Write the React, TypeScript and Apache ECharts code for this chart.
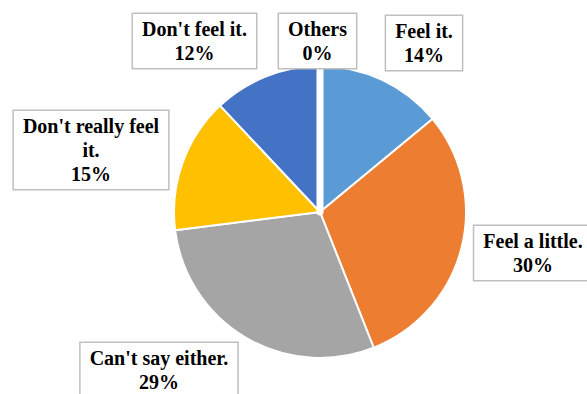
import React, { useEffect, useRef } from "react";
import * as echarts from "echarts";

const categories = [
  "Feel it.",
  "Feel a little.",
  "Can't say either.",
  "Don't really feel it.",
  "Don't feel it.",
  "Others",
];
const values = [14, 30, 29, 15, 12, 0];
const colors = ["#5B9BD5", "#ED7D31", "#A5A5A5", "#FFC000", "#4472C4", "#70AD47"];
// label box positions (center x, top y) in pixels
const labelX = [424, 533, 159, 91, 194.5, 317.5];
const labelY = [16, 226, 343, 111, 14, 14];

export default function App() {
  const ref = useRef<HTMLDivElement>(null);
  useEffect(() => {
    if (!ref.current) return;
    const chart = echarts.init(ref.current, null, { renderer: "svg" });
    chart.setOption({
      animation: false,
      backgroundColor: "#ffffff",
      series: [
        {
          type: "pie",
          center: [320, 212],
          radius: 146,
          startAngle: 90,
          clockwise: true,
          avoidLabelOverlap: false,
          percentPrecision: 0,
          labelLine: { show: false },
          itemStyle: { borderColor: "#ffffff", borderWidth: 2 },
          label: {
            show: true,
            position: "outside",
            formatter: (p: any) =>
              (p.name === "Don't really feel it." ? "Don't really feel\nit." : p.name) +
              "\n" +
              p.percent +
              "%",
            fontFamily: "'Liberation Serif', 'Times New Roman', serif",
            fontWeight: "bold",
            fontSize: 20,
            lineHeight: 24,
            color: "#000000",
            backgroundColor: "#ffffff",
            borderColor: "#bfbfbf",
            borderWidth: 1.5,
            padding: [3, 9],
            align: "center",
          },
          labelLayout: (params: any) => ({
            x: labelX[params.dataIndex],
            y: labelY[params.dataIndex],
            align: "center",
            verticalAlign: "top",
          }),
          data: categories.map((name, i) => ({
            name,
            value: values[i],
            itemStyle:
              i === 5
                ? { color: colors[i], borderColor: "#ffffff", borderWidth: 7 }
                : { color: colors[i] },
          })),
        },
      ],
    });
    return () => chart.dispose();
  }, []);
  return (
    <div
      ref={ref}
      style={{ position: "absolute", left: 0, top: 0, width: 587, height: 394 }}
    />
  );
}
